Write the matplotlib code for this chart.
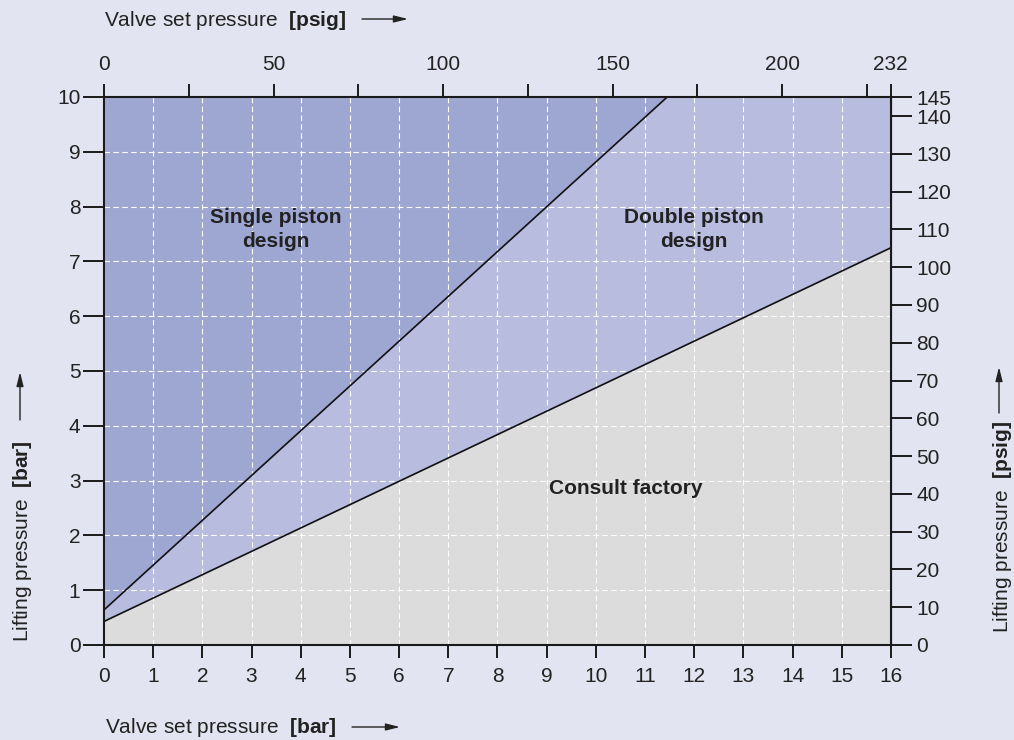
import numpy as np
import matplotlib
matplotlib.use("Agg")
import matplotlib.pyplot as plt

plt.rcParams['font.family'] = ['Liberation Sans', 'DejaVu Sans']
plt.rcParams['mathtext.fontset'] = 'custom'
plt.rcParams['mathtext.rm'] = 'Liberation Sans'
plt.rcParams['mathtext.bf'] = 'Liberation Sans:bold'

# boundary lines (valve set pressure [bar], lifting pressure [bar])
upper_x = [0, 11.45]
upper_y = [0.64, 10]
lower_x = [0, 16]
lower_y = [0.43, 7.25]

psig_ticks = [0, 25, 50, 75, 100, 125, 150, 175, 200, 225, 232]
psig_labels = ['0', '', '50', '', '100', '', '150', '', '200', '', '232']
lift_psig_ticks = [0, 10, 20, 30, 40, 50, 60, 70, 80, 90, 100, 110, 120, 130, 140, 145]

region_labels = ['Single piston\ndesign', 'Double piston\ndesign', 'Consult factory']
region_pos = [(3.5, 7.58), (12.0, 7.58), (10.6, 2.86)]

bg = '#e3e4f2'
c_single = '#9ea6d2'
c_double = '#b8bcde'
c_consult = '#dcdcdc'
ink = '#222222'
PSI = 14.5038
FS = 15

fig = plt.figure(figsize=(10.14, 7.40), dpi=100, facecolor=bg)
ax = fig.add_axes([104/1014, 95/740, 787/1014, 548/740])
ax.set_facecolor(bg)

xs = np.linspace(0, 16, 400)
slope = (upper_y[1]-upper_y[0])/(upper_x[1]-upper_x[0])
up = np.minimum(upper_y[0] + slope*xs, 10)
lo = np.interp(xs, lower_x, lower_y)
ax.fill_between(xs, 0, lo, color=c_consult, lw=0, zorder=1)
ax.fill_between(xs, lo, up, color=c_double, lw=0, zorder=1)
ax.fill_between(xs, up, 10, color=c_single, lw=0, zorder=1)

ax.plot(upper_x, upper_y, color='#111111', lw=1.2, zorder=3)
ax.plot(lower_x, lower_y, color='#111111', lw=1.2, zorder=3)

ax.set_xlim(0, 16)
ax.set_ylim(0, 10)
ax.set_xticks(range(0, 17))
ax.set_yticks(range(0, 11))
ax.grid(True, color='white', ls=(0, (5, 3)), lw=0.8, zorder=2)
ax.set_axisbelow(False)
for s in ax.spines.values():
    s.set_linewidth(1.5)
    s.set_color('#1a1a1a')
    s.set_zorder(4)
ax.tick_params(axis='x', length=9.5, width=1.4, labelsize=FS, pad=6, color='#1a1a1a', labelcolor=ink)
ax.tick_params(axis='y', length=15, width=1.4, labelsize=FS, pad=2, color='#1a1a1a', labelcolor=ink)

for t, (x, y) in zip(region_labels, region_pos):
    ax.text(x, y, t, ha='center', va='center', fontsize=FS, fontweight='bold',
            color=ink, zorder=5, linespacing=1.3)

top = ax.secondary_xaxis('top', functions=(lambda b: b*PSI, lambda p: p/PSI))
top.set_xticks(psig_ticks, psig_labels)
top.tick_params(length=9.5, width=1.4, labelsize=FS, pad=7, color='#1a1a1a', labelcolor=ink)

right = ax.secondary_yaxis('right', functions=(lambda b: b*PSI, lambda p: p/PSI))
right.set_yticks(lift_psig_ticks)
right.tick_params(length=15, width=1.4, labelsize=FS, pad=3, color='#1a1a1a', labelcolor=ink)


def arrow(x0, y0, x1, y1):
    ax.annotate('', xy=(x1, 740-y1), xytext=(x0, 740-y0), xycoords='figure pixels',
                textcoords='figure pixels', annotation_clip=False,
                arrowprops=dict(arrowstyle='-|>,head_length=0.6,head_width=0.15',
                                mutation_scale=14, color=ink, lw=1, shrinkA=0, shrinkB=0))


fig.text(105/1014, 1-733/740, r'Valve set pressure  $\bf{[bar]}$', fontsize=FS, color=ink,
         ha='left', va='baseline')
arrow(352, 727, 400, 727)
fig.text(104/1014, 1-26/740, r'Valve set pressure  $\bf{[psig]}$', fontsize=FS, color=ink,
         ha='left', va='baseline')
arrow(362, 19, 408, 19)
fig.text(11/1014, 1-642/740, r'Lifting pressure  $\bf{[bar]}$', fontsize=FS, color=ink,
         rotation=90, ha='left', va='bottom')
arrow(20, 420, 20, 372)
fig.text(991/1014, 1-633/740, r'Lifting pressure  $\bf{[psig]}$', fontsize=FS, color=ink,
         rotation=90, ha='left', va='bottom')
arrow(999, 413, 999, 367)

fig.savefig('out.png', dpi=100, facecolor=bg)
